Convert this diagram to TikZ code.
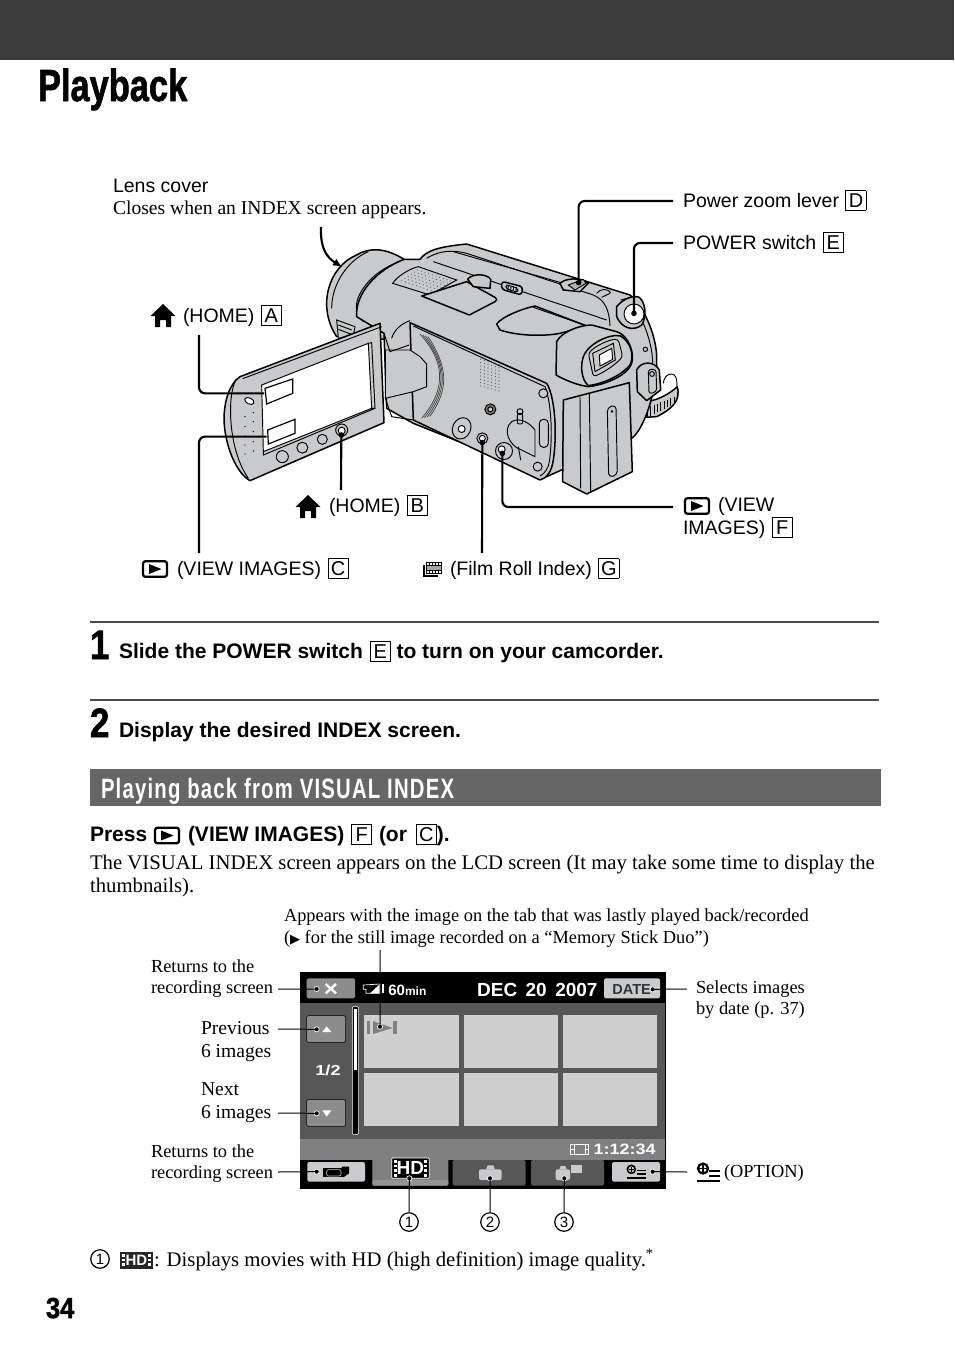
\documentclass[tikz,border=0pt]{standalone}
\usetikzlibrary{arrows.meta}
\usepackage{graphicx}
\usepackage{fontspec}
\setmainfont{Liberation Serif}
\setsansfont{Liberation Sans}
\newfontfamily\heavyfont[FakeBold=1.6]{Liberation Sans Bold}
\newfontfamily\secfont[LetterSpace=6]{Liberation Sans Bold}
\newfontfamily\symfont{DejaVu Sans}
\newcommand{\bx}[1]{\hspace{1pt}{\setlength{\fboxsep}{0pt}\setlength{\fboxrule}{0.8pt}\fbox{\makebox[19.4pt]{\rule[-2.6pt]{0pt}{18.4pt}\fontsize{20}{22}\selectfont\mdseries #1}}}}
\definecolor{camgray}{HTML}{C9CACB}
\definecolor{thumb}{HTML}{CFCFCF}
\definecolor{band}{HTML}{3B3B3B}
\definecolor{secbg}{HTML}{666666}
\tikzset{
  txt/.style={anchor=base west,inner sep=0pt,outer sep=0pt},
  sanslbl/.style={txt,font=\sffamily\fontsize{19.5}{22}\selectfont},
  serifsm/.style={txt,font=\rmfamily\fontsize{18.4}{22}\selectfont},
  seriflg/.style={txt,font=\rmfamily\fontsize{19.6}{22}\selectfont},
  bodytxt/.style={txt,font=\rmfamily\fontsize{20.75}{24}\selectfont},
  boldtxt/.style={txt,font=\sffamily\bfseries\fontsize{21}{24}\selectfont},
  lead/.style={draw=black,line width=2.1pt,rounded corners=6pt},
  thin lead/.style={draw=black,line width=1pt},
  cam/.style={draw=black,line width=1.5pt,fill=camgray,line join=round},
  camline/.style={draw=black,line width=0.95pt},
  camthin/.style={draw=black!75,line width=0.6pt},
  scr/.style={inner sep=0pt,outer sep=0pt,text=white,font=\sffamily\bfseries},
  numc/.style={draw=black,circle,line width=1.2pt,minimum size=18.5pt,inner sep=0pt,font=\sffamily\fontsize{15}{16}\selectfont},
  viewimg/.pic={
    \draw[line width=2.3pt,rounded corners=2.5pt] (-12,-7.8) rectangle (12,7.8);
    \fill (-6,-5) -- (6.5,0) -- (-6,5) -- cycle;
  },
  homeic/.pic={
    \fill (-12.5,0) -- (0,-12) -- (12.5,0) -- cycle;
    \fill (-8,0) -- (-8,11) -- (-3,11) -- (-3,4) -- (3,4) -- (3,11) -- (8,11) -- (8,0) -- cycle;
  },
}
\begin{document}
\begin{tikzpicture}[x=1pt,y=-1pt]
\useasboundingbox (0,0) rectangle (954,1357);
\fill[band] (0,0) rectangle (954,60);
\node[txt,font=\heavyfont\fontsize{45}{46}\selectfont] (title) at (38,101) {\scalebox{0.765}[1]{Playback}};

% ---------- camcorder (zoom coordinates)
\begin{scope}[shift={(200,220)},x=0.33333pt,y=-0.33333pt]
  % strap
  \draw[camline] (1390,490) .. controls (1392,460) and (1425,450) .. (1430,480) -- (1432,515);
  \draw[cam] (1330,545) .. controls (1370,545) and (1410,520) .. (1432,500) .. controls (1442,540) and (1420,565) .. (1370,590) -- (1332,592) -- cycle;
  \foreach \i in {0,...,8}{\draw[camline] (1342+\i*10,563-\i*4) -- (1342+\i*10,592-\i*5);}
  % lens hood
  \draw[cam] (612,118) .. controls (560,85) and (510,80) .. (470,105) .. controls (385,140) and (350,260) .. (410,350) -- (600,360) -- cycle;
  \draw[camline] (612,122) .. controls (530,140) and (460,220) .. (470,270) .. controls (472,285) and (480,295) .. (490,305);
  \draw[camline] (395,265) .. controls (395,190) and (445,120) .. (505,95);
  % hinge pieces
  \draw[camline,fill=camgray] (410,300) -- (465,320) -- (460,345) -- (415,355) -- cycle;
  \draw[camline] (415,315) -- (455,330) (415,328) -- (452,342);
  % body silhouette
  \draw[cam] (612,118) -- (660,118) .. controls (680,90) and (720,80) .. (800,72) -- (1290,225) .. controls (1340,270) and (1372,360) .. (1370,420) .. controls (1370,520) and (1330,630) .. (1295,655) -- (1040,770) -- (640,610) -- (560,565) -- (552,340) -- (470,290) .. controls (465,220) and (530,150) .. cycle;
  % top lines
  \draw[camline] (680,115) .. controls (720,90) and (760,90) .. (800,100) -- (1180,225) .. controls (1215,240) and (1228,270) .. (1230,318);
  \draw[camline] (760,95) -- (1090,190);
  \draw[camline] (700,125) -- (1220,300);
  \draw[camline] (1330,310) .. controls (1345,345) and (1358,390) .. (1358,430);
  % flash grille
  \draw[camline,fill=camgray] (578,190) .. controls (590,170) and (630,145) .. (655,140) -- (770,180) -- (690,225) -- cycle;
  \foreach \i in {1,...,10}{\foreach \j in {1,...,6}{
    \fill[black!70] ({585+\j*9.5+\i*11},{185-\j*6.5+\i*3.7}) circle (0.55pt);}}
  % hot-shoe cover
  \draw[cam] (665,228) -- (800,185) -- (885,232) .. controls (893,238) and (890,243) .. (885,245) -- (808,285) -- cycle;
  \draw[cam] (803,178) .. controls (815,160) and (860,160) .. (872,178) -- (870,205) -- (820,200) -- cycle;
  % mode switch
  \draw[cam,rounded corners=3pt] (905,184) -- (968,200) -- (965,225) -- (905,208) -- cycle;
  \draw[camline,rounded corners=2pt] (918,194) -- (955,205) -- (953,217) -- (917,206) -- cycle;
  \foreach \i in {0,...,3}{\draw[camline] (925+\i*8,197+\i*2) -- (924+\i*8,207+\i*2);}
  % zoom lever
  \draw[cam] (1080,190) .. controls (1095,175) and (1140,170) .. (1165,190) -- (1140,215) -- (1090,210) -- cycle;
  \draw[camline,fill=black!30] (1105,195) -- (1150,178) -- (1158,190) -- (1125,210) -- cycle;
  \draw[camline] (1190,220) .. controls (1200,205) and (1225,205) .. (1232,218);
  \draw[camline] (1205,232) -- (1230,220);
  % grip top recess
  \draw[cam] (890,312) .. controls (905,290) and (970,265) .. (1005,258) -- (1160,318) -- (1080,340) .. controls (1040,348) and (960,350) .. (900,330) -- cycle;
  \draw[camline] (1000,262) -- (1240,345);
  % power switch
  \draw[cam] (1250,260) .. controls (1270,235) and (1300,225) .. (1318,232) .. controls (1338,250) and (1340,290) .. (1325,315) .. controls (1300,335) and (1265,325) .. (1250,290) -- cycle;
  \draw[camline,fill=white] (1302,282) circle (10pt);
  \draw[camline] (1262,240) -- (1295,232);
  \draw[camline,fill=camgray] (1336,388) circle (2.2pt);
  % viewfinder
  \draw[cam] (1070,365) .. controls (1085,335) and (1140,315) .. (1175,315) -- (1250,335) .. controls (1285,345) and (1305,400) .. (1295,430) .. controls (1280,470) and (1210,495) .. (1165,500) .. controls (1130,495) and (1095,480) .. (1068,465) -- cycle;
  \draw[cam] (1150,410) .. controls (1165,370) and (1230,340) .. (1262,348) .. controls (1290,365) and (1305,405) .. (1290,435) .. controls (1260,470) and (1205,492) .. (1165,497) .. controls (1145,480) and (1140,440) .. (1150,410) -- cycle;
  \draw[camline,rounded corners=3pt] (1165,400) .. controls (1190,375) and (1230,358) .. (1255,358) -- (1268,410) .. controls (1240,440) and (1205,460) .. (1180,470) -- cycle;
  \draw[camline,fill=camgray] (1178,400) -- (1240,370) -- (1246,420) -- (1185,455) -- cycle;
  \draw[camline,fill=white] (1198,405) -- (1235,385) -- (1238,418) -- (1200,438) -- cycle;
  % grip strap buckle
  \draw[cam] (1310,450) .. controls (1325,420) and (1365,425) .. (1378,450) -- (1382,510) -- (1340,542) -- (1312,515) -- cycle;
  \draw[camline,rounded corners=3pt] (1345,448) -- (1368,448) -- (1370,515) -- (1347,522) -- cycle;
  \draw[camline,fill=camgray] (1356,462) circle (2.4pt);
  % side panel
  \draw[cam] (630,308) -- (1040,490) .. controls (1065,530) and (1072,640) .. (1060,720) .. controls (1055,755) and (1040,775) .. (1020,780) -- (640,600) -- cycle;
  \draw[camline] (640,318) -- (1035,500) .. controls (1052,540) and (1060,640) .. (1048,725) .. controls (1045,745) and (1035,760) .. (1020,768);
  \draw[camline,fill=camgray] (630,390) -- (660,410) -- (680,432) -- (680,500) -- (640,515) -- (556,535) -- (556,390) -- cycle;
  \draw[camline] (552,340) -- (570,395) -- (628,375);
  \draw[camline] (575,355) .. controls (582,330) and (605,310) .. (630,302);
  \draw[camline] (556,535) -- (575,590) -- (640,600);
  % speaker arcs
  \foreach \d in {0,9,18,27}{\draw[camthin,line width=0.7pt] (660+\d*0.9,342+\d*0.3) .. controls (730+\d*0.3,420+\d*0.5) and (745+\d*0.3,500) .. (665+\d*0.9,595-\d*0.2);}
  % mic dots
  \foreach \i in {0,...,8}{\foreach \j in {0,...,5}{
    \fill[black!75] ({842+\j*11},{418+\i*10+\j*3}) circle (0.55pt);}}
  % jacks
  \draw[camline,fill=black!55] (871,568) circle (5.5pt);
  \draw[camline,fill=camgray] (871,568) circle (2.5pt);
  \draw[camline,fill=camgray,rotate around={-25:(785,625)}] (785,625) ellipse (9pt and 11pt);
  \draw[camline,fill=white] (785,627) circle (3.5pt);
  \draw[camline,fill=camgray] (847,655) circle (5.5pt);
  \draw[camline,fill=white] (847,655) circle (3pt);
  \draw[camline,fill=camgray] (912,693) circle (8.5pt);
  \draw[camline,fill=white] (905,688) circle (3.5pt);
  \draw[camline,fill=camgray] (1030,520) circle (4.5pt);
  \draw[camline,fill=camgray] (1013,740) circle (4.5pt);
  % card door
  \draw[camline] (935,605) .. controls (960,590) and (990,610) .. (1005,630) -- (1005,710) -- (965,690) .. controls (930,680) and (905,630) .. (935,605) -- cycle;
  \draw[camline,rounded corners=2pt] (952,580) -- (968,580) -- (968,612) -- (952,612) -- cycle;
  \draw[camline] (960,575) circle (3pt);
  \draw[camline] (955,680) -- (962,720);
  \draw[camline,rounded corners=4pt] (1018,598) -- (1045,598) -- (1045,682) -- (1018,682) -- cycle;
  % battery
  \draw[cam] (1090,540) -- (1288,488) -- (1297,755) -- (1160,822) -- (1088,785) -- cycle;
  \draw[camline] (1140,530) -- (1142,805);
  \draw[camline] (1168,522) -- (1172,815);
  \draw[camline,rounded corners=4pt] (1222,562) -- (1248,555) -- (1252,765) -- (1226,772) -- cycle;
  \fill (1236,568) -- (1240,577) -- (1232,577) -- cycle;
  % LCD panel
  \draw[cam] (120,470) -- (540,310) -- (552,608) -- (150,782) .. controls (110,760) and (75,680) .. (72,600) .. controls (72,540) and (90,490) .. (120,470) -- cycle;
  \draw[camline] (108,478) .. controls (80,530) and (85,690) .. (145,775);
  \draw[camline] (128,476) -- (545,320);
  \draw[camline,fill=white] (185,495) -- (505,370) -- (515,565) -- (190,695) -- cycle;
  \draw[camline] (505,370) -- (515,368) -- (525,565) -- (515,565);
  \draw[camline] (190,695) -- (190,705) -- (525,565);
  \draw[line width=1.2pt,fill=white] (195,505) -- (278,477) -- (278,520) -- (200,552) -- cycle;
  \draw[line width=1.2pt,fill=white] (203,630) -- (285,598) -- (285,640) -- (205,672) -- cycle;
  \foreach \px/\py/\r in {247/710/6, 307/683/5.5, 367/658/5, 425/630/6}{
    \draw[camline,fill=camgray] (\px,\py) circle (\r pt);}
  \draw[camline,fill=white] (425,632) circle (3.5pt);
  \draw[camline,fill=white,rotate around={-25:(148,543)}] (148,543) ellipse (5pt and 3pt);
  \foreach \px/\py in {135/590,160/578,135/620,160/605,135/648,160/635,135/675,160/665,135/702,160/693}{
    \fill (\px,\py) circle (0.7pt);}
  % connector end points
  \coordinate (zoomend) at (1136,188);
  \coordinate (powerend) at (1302,280);
  \coordinate (homeaend) at (192,520);
  \coordinate (viewcend) at (200,650);
  \coordinate (homebend) at (424,645);
  \coordinate (filmend) at (847,668);
  \coordinate (viewfend) at (907,700);
\end{scope}
\foreach \c in {zoomend,powerend,homebend,filmend,viewfend}{\fill (\c) circle (2.8pt);}

% leader corners
\coordinate (zoomfree) at (673,201);
\coordinate (powerfree) at (673,243);
\coordinate (homeafree) at (199,335);
\coordinate (viewcfree) at (199,553);
\coordinate (homebfree) at (341,490);
\coordinate (filmfree) at (482,553);
\coordinate (viewffree) at (673,507);
\draw[lead] (zoomfree) -| (zoomend);
\draw[lead] (powerfree) -| (powerend);
\draw[lead] (homeafree) |- (homeaend);
\draw[lead] (viewcfree) |- (viewcend);
\draw[lead] (homebfree) -- (homebend);
\draw[lead] (filmfree) -- (filmend);
\draw[lead] (viewffree) -| (viewfend);
\coordinate (lensfree) at (321,227);
\coordinate (lensend) at (342,267);
\draw[line width=2.1pt,-{Latex[length=9pt,width=8pt]}] (lensfree) .. controls (320,250) and (328,258) .. (lensend);

% camcorder labels
\node[sanslbl] (lens) at (113,192) {Lens cover};
\node[seriflg] (closes) at (113,214) {Closes when an INDEX screen appears.};
\node[sanslbl] (zoomlbl) at (683,207) {Power zoom lever \bx{D}};
\node[sanslbl] (powerlbl) at (683,249) {POWER switch \bx{E}};
\pic at (163,316) {homeic};
\node[sanslbl] (homea) at (183,322) {(HOME) \bx{A}};
\pic at (308,507) {homeic};
\node[sanslbl] (homeb) at (329,512) {(HOME) \bx{B}};
\pic at (155,569) {viewimg};
\node[sanslbl] (viewc) at (177,575) {(VIEW IMAGES) \bx{C}};
% film roll icon
\fill (423,565) rectangle (438,577);
\fill[black,draw=white,line width=0.5pt] (425.5,561.5) rectangle (442,574.5);
\foreach \i in {0,...,4}{\fill[white] (427+\i*3,563) rectangle (428.6+\i*3,564.6);\fill[white] (427+\i*3,571) rectangle (428.6+\i*3,572.6);}
\fill[black!35] (427,566) rectangle (440.5,570);
\node[sanslbl] (filmlbl) at (450,575) {(Film Roll Index) \bx{G}};
\pic at (697,506) {viewimg};
\node[sanslbl] (viewf1) at (718,511) {(VIEW};
\node[sanslbl] (viewf2) at (683,534) {IMAGES) \bx{F}};

% steps
\coordinate (r1a) at (90,622); \coordinate (r1b) at (879,622);
\coordinate (r2a) at (90,700); \coordinate (r2b) at (879,700);
\draw[black!70,line width=1.3pt] (r1a) -- (r1b);
\draw[black!70,line width=1.3pt] (r2a) -- (r2b);
\node[txt,font=\heavyfont\fontsize{41}{42}\selectfont] (one) at (90,659) {\scalebox{0.85}[1]{1}};
\node[boldtxt] (step1) at (119,658) {Slide the POWER switch \bx{E} to turn on your camcorder.};
\node[txt,font=\heavyfont\fontsize{41}{42}\selectfont] (two) at (90,737) {\scalebox{0.85}[1]{2}};
\node[boldtxt] (step2) at (119,737) {Display the desired INDEX screen.};

% section band
\fill[secbg] (90,769) rectangle (881,806);
\node[txt,text=white,font=\secfont\fontsize{28}{30}\selectfont] (sec) at (101,798) {\scalebox{0.725}[1]{Playing back from VISUAL INDEX}};

% press
\node[boldtxt] (press) at (90,841) {Press};
\pic at (167,835.5) {viewimg};
\node[boldtxt] (press2) at (188,841) {(VIEW IMAGES) \bx{F} \hspace{1pt}(or\hspace{2pt} \bx{C}).};
\node[bodytxt] (b1) at (90,869) {The VISUAL INDEX screen appears on the LCD screen (It may take some time to display the};
\node[bodytxt] (b2) at (90,892) {thumbnails).};

% callouts
\node[serifsm] (app1) at (284,921) {Appears with the image on the tab that was lastly played back/recorded};
\node[serifsm] (app2) at (284,943) {({\symfont\fontsize{13}{14}\selectfont ▶} for the still image recorded on a “Memory Stick Duo”)};
\node[serifsm] (ret1) at (151,972) {Returns to the};
\node[serifsm] (ret2) at (151,993) {recording screen};
\node[seriflg] (prev1) at (201,1034) {Previous};
\node[seriflg] (prev2) at (201,1057) {6 images};
\node[seriflg] (next1) at (201,1095) {Next};
\node[seriflg] (next2) at (201,1118) {6 images};
\node[serifsm] (ret3) at (151,1157) {Returns to the};
\node[serifsm] (ret4) at (151,1178) {recording screen};
\node[serifsm] (sel1) at (696,993) {Selects images};
\node[serifsm] (sel2) at (696,1014) {by date (p. 37)};
\node[serifsm] (optlbl) at (724,1177) {(OPTION)};
% option icon
\draw[line width=2.2pt] (703,1168.5) circle (5pt);
\draw[line width=1.8pt] (699,1168.5) -- (707,1168.5) (703,1164.5) -- (703,1172.5);
\draw[line width=1.7pt] (709,1171) -- (720,1171) (709,1176) -- (720,1176) (697,1181) -- (720,1181);

% screen
\begin{scope}[shift={(280,960)},x=0.33333pt,y=-0.33333pt]
  \fill[black] (60,37) rectangle (1158,687);
  \fill[black!66] (60,128) rectangle (1155,537);
  \fill[black!50] (60,537) rectangle (1155,600);
  \fill[black!45,rounded corners=1.5pt] (80,55) rectangle (225,115);
  \fill[camgray,rounded corners=1.5pt] (972,55) rectangle (1140,115);
  \foreach \yy in {167,419}{\fill[black!45,rounded corners=1.5pt,draw=black] (80,\yy) rectangle (197,\yy+80);}
  \foreach \xa/\xb in {252/536,551/834,849/1132}{
    \fill[thumb] (\xa,165) rectangle (\xb,325);
    \fill[thumb] (\xa,340) rectangle (\xb,498);}
  \fill[black,draw=white,line width=0.6pt,rounded corners=1pt] (217,140) rectangle (236,523);
  \fill[white] (222,146) rectangle (231,330);
  \fill[camgray,rounded corners=1.5pt] (82,606) rectangle (255,665);
  \fill[black!50,rounded corners=1.5pt] (277,590) rectangle (505,677);
  \fill[black!42,rounded corners=1.5pt] (277,660) rectangle (505,677);
  \fill[black!66,rounded corners=1.5pt] (518,600) rectangle (737,677);
  \fill[black!66,rounded corners=1.5pt] (753,600) rectangle (972,677);
  \fill[camgray,rounded corners=1.5pt] (996,606) rectangle (1140,665);
  % X
  \draw[white,line width=2.4pt] (137,72) -- (168,100) (168,72) -- (137,100);
  % battery
  \draw[white,line width=0.7pt] (250,75) -- (300,72) -- (300,100) -- (258,100) -- (258,88) -- (250,88) -- cycle;
  \fill[white] (300,72) -- (270,100) -- (300,100) -- cycle;
  \fill[white] (305,73) rectangle (311,100);
  \node[scr,font=\sffamily\bfseries\fontsize{15}{16}\selectfont] (mins) at (382,90) {60\fontsize{12}{13}\selectfont min};
  \node[scr,font=\sffamily\bfseries\fontsize{19}{20}\selectfont] (datetxt) at (772,91) {DEC\, 20\, 2007};
  \node[scr,text=black!80,font=\sffamily\bfseries\fontsize{14.5}{16}\selectfont] (datebtn) at (1055,88) {DATE};
  \node[scr,text=white,font=\sffamily\bfseries\fontsize{14.5}{16}\selectfont] (page) at (144,331) {\scalebox{1.25}[1]{1/2}};
  \fill[white] (127,216) -- (154,216) -- (140,199) -- cycle;
  \fill[white] (127,451) -- (154,451) -- (140,470) -- cycle;
  % mark on first thumb
  \fill[black!50] (262,183) rectangle (270,222);
  \fill[black!50] (279,183) -- (338,204) -- (279,222) -- cycle;
  \fill[black!50] (340,183) rectangle (350,222);
  % time
  \draw[white,line width=0.6pt] (872,553) rectangle (926,583) (882,553) -- (882,583) (916,553) -- (916,583) (872,568) -- (882,568) (916,568) -- (926,568);
  \node[scr,font=\sffamily\bfseries\fontsize{15}{16}\selectfont] (timetxt) at (1034,568) {\scalebox{1.2}[1]{1:12:34}};
  % movie cam
  \fill[black] (130,625) rectangle (190,652);
  \fill[black] (185,620) -- (207,620) -- (207,640) -- (190,652) -- cycle;
  \draw[camgray,line width=0.6pt,rounded corners=2pt] (140,629) rectangle (183,648);
  % HD
  \fill[black,draw=white,line width=0.8pt,rounded corners=1pt] (335,594) rectangle (448,655);
  \node[scr,font=\sffamily\bfseries\fontsize{19}{20}\selectfont] (hdtxt) at (391,625) {HD};
  \foreach \yy in {600,614,628,642}{\fill[white] (341,\yy) rectangle (351,\yy+8);\fill[white] (432,\yy) rectangle (442,\yy+8);}
  % still cams
  \fill[camgray,rounded corners=2pt] (597,628) rectangle (665,660);
  \fill[camgray] (618,628) -- (623,616) -- (640,616) -- (645,628) -- cycle;
  \fill[camgray,rounded corners=2pt] (827,628) rectangle (870,660);
  \fill[camgray] (838,628) -- (842,618) -- (856,618) -- (860,628) -- cycle;
  \fill[camgray] (872,614) rectangle (906,638);
  % option
  \draw[black,line width=1.6pt] (1054,628) circle (4pt);
  \draw[black,line width=1.3pt] (1047,628) -- (1061,628) (1054,621) -- (1054,635);
  \draw[black,line width=1.3pt] (1070,632) -- (1098,632) (1070,642) -- (1098,642) (1040,654) -- (1098,654);
  % dots
  \coordinate (dclose) at (110,87);
  \coordinate (ddate) at (1118,88);
  \coordinate (dup) at (110,208);
  \coordinate (ddown) at (110,460);
  \coordinate (dcam) at (110,635);
  \coordinate (dopt) at (1118,635);
  \coordinate (dmark) at (300,200);
  \coordinate (dhd) at (388,655);
  \coordinate (dstill) at (630,655);
  \coordinate (dstilltwo) at (853,655);
\end{scope}
\foreach \c in {dclose,ddate,dup,ddown,dcam,dopt,dmark,dhd,dstill,dstilltwo}{
  \fill[black,draw=white,line width=0.7pt] (\c) circle (2.6pt);}

\coordinate (lclose) at (278,989);
\coordinate (lup) at (278,1029);
\coordinate (ldown) at (278,1113);
\coordinate (lcam) at (278,1172);
\coordinate (rdate) at (687,989);
\coordinate (ropt) at (687,1172);
\coordinate (tmark) at (380,950);
\draw[thin lead] (lclose) -- (dclose);
\draw[thin lead] (lup) -- (dup);
\draw[thin lead] (ldown) -- (ddown);
\draw[thin lead] (lcam) -- (dcam);
\draw[thin lead] (rdate) -- (ddate);
\draw[thin lead] (ropt) -- (dopt);
\draw[thin lead] (tmark) -- (dmark);
\node[numc] (n1) at (409,1222) {1};
\node[numc] (n2) at (490,1222) {2};
\node[numc] (n3) at (564,1222) {3};
\draw[thin lead] (n1) -- (dhd);
\draw[thin lead] (n2) -- (dstill);
\draw[thin lead] (n3) -- (dstilltwo);

% footnote
\node[numc] (n4) at (100,1259) {1};
\fill[black!85] (120,1252) rectangle (153,1269);
\node[inner sep=0pt,text=white,font=\sffamily\bfseries\fontsize{15}{16}\selectfont] (hdbig) at (136.5,1260.5) {HD};
\foreach \yy in {1254,1258.5,1263}{\fill[white] (122,\yy) rectangle (125,\yy+2.5);\fill[white] (148,\yy) rectangle (151,\yy+2.5);}
\node[bodytxt] (foot) at (154,1266) {: Displays movies with HD (high definition) image quality.\textsuperscript{*}};
\node[txt,font=\heavyfont\fontsize{29}{30}\selectfont] (pageno) at (46,1318) {\scalebox{0.88}[1]{34}};
\end{tikzpicture}
\end{document}
